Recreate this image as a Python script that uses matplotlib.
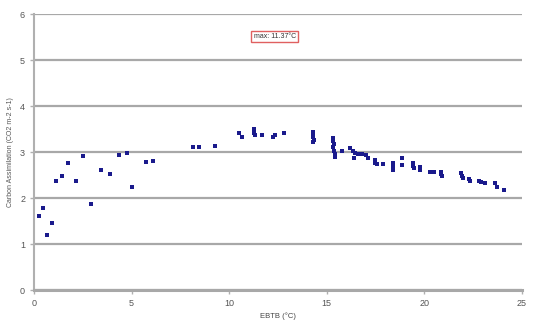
import matplotlib
matplotlib.use("Agg")
import matplotlib.pyplot as plt

plt.rcParams['font.family'] = ['Liberation Sans', 'DejaVu Sans']

x_vals = [0.27, 0.48, 0.67, 0.91, 1.11, 1.45, 1.74, 2.14, 2.51, 2.92, 3.42, 3.90, 4.36, 4.75, 5.01, 5.73, 6.07,
          8.17, 8.43, 9.25, 10.48, 10.68, 11.25, 11.25, 11.25, 11.30, 11.68, 12.25, 12.35, 12.79,
          14.3, 14.3, 14.3, 14.35, 14.3,
          15.3, 15.3, 15.35, 15.3, 15.35, 15.4, 15.4,
          15.78, 16.2, 16.34, 16.46, 16.38, 16.6, 16.8, 17.0, 17.14,
          17.45, 17.45, 17.57, 17.88, 18.39, 18.39, 18.42, 18.86, 18.86, 19.4, 19.42, 19.45, 19.76, 19.8,
          20.31, 20.5, 20.85, 20.85, 20.9,
          21.9, 21.95, 22.0, 22.3, 22.36, 22.8, 22.9, 23.1, 23.65, 23.75, 24.1]
y_vals = [1.62, 1.78, 1.20, 1.45, 2.37, 2.48, 2.77, 2.37, 2.91, 1.88, 2.61, 2.52, 2.93, 2.99, 2.23, 2.78, 2.81,
          3.12, 3.10, 3.14, 3.42, 3.32, 3.50, 3.46, 3.42, 3.38, 3.36, 3.32, 3.37, 3.41,
          3.44, 3.38, 3.32, 3.26, 3.22,
          3.30, 3.24, 3.18, 3.10, 3.02, 2.96, 2.90,
          3.03, 3.08, 3.03, 2.97, 2.86, 2.96, 2.95, 2.93, 2.86,
          2.83, 2.77, 2.75, 2.73, 2.76, 2.67, 2.62, 2.88, 2.72, 2.76, 2.70, 2.65, 2.68, 2.62,
          2.56, 2.57, 2.57, 2.52, 2.48,
          2.54, 2.48, 2.43, 2.42, 2.38, 2.37, 2.34, 2.33, 2.33, 2.25, 2.17]

x_ticks = [0, 5, 10, 15, 20, 25]
y_ticks = [0, 1, 2, 3, 4, 5, 6]
annotation = "max: 11.37°C"

fig = plt.figure(figsize=(5.33, 3.27), dpi=100)
ax = fig.add_axes([0.064, 0.113, 0.915, 0.844])

ax.scatter(x_vals, y_vals, s=7, marker='s', color='#1a1a8c', linewidths=0, zorder=3)

ax.set_xlim(0, 25)
ax.set_ylim(0, 6)
ax.set_xticks(x_ticks)
ax.set_yticks(y_ticks)
ax.yaxis.grid(True, color='#a8a8a8', linewidth=1.6)
ax.set_axisbelow(True)
for s in ['top', 'right']:
    ax.spines[s].set_visible(False)
ax.spines['left'].set_color('#b0b0b0')
ax.spines['left'].set_linewidth(1.5)
ax.spines['bottom'].set_color('#a8a8a8')
ax.spines['bottom'].set_linewidth(2.2)
ax.tick_params(axis='both', colors='#b0b0b0', labelcolor='#555555', labelsize=6.5, length=3, width=1)

ax.set_xlabel("EBTB (°C)", fontsize=5.5, color='#444444', labelpad=3)
ax.set_ylabel("Carbon Assimilation (CO2 m-2 s-1)", fontsize=5, color='#555555', labelpad=4)

ax.text(12.33, 5.52, annotation, fontsize=5, color='#333333', ha='center', va='center',
        bbox=dict(boxstyle='square,pad=0.3', facecolor='white', edgecolor='#e06060', linewidth=1))

fig.savefig("out.png", dpi=100, facecolor='white')
